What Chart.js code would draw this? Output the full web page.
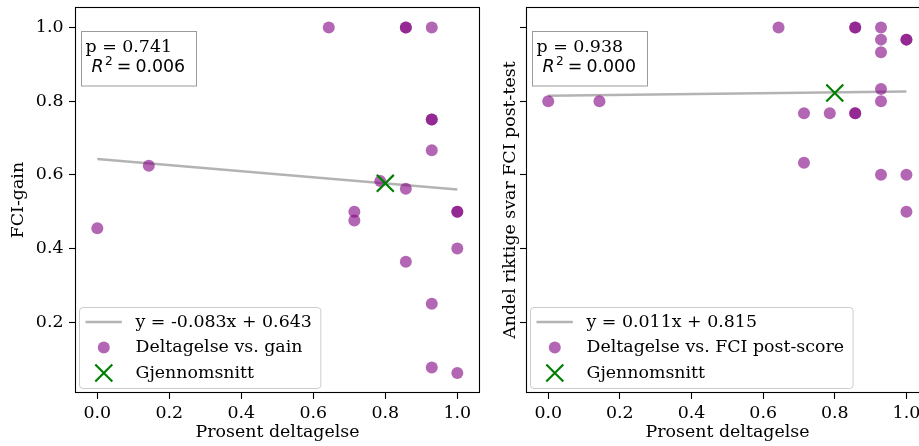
<!DOCTYPE html>
<html><head><meta charset="utf-8">
<script src="https://cdn.jsdelivr.net/npm/chart.js@4.4.1/dist/chart.umd.min.js"></script>
<style>
html,body{margin:0;padding:0;width:919px;height:446px;overflow:hidden;background:#fff;}
#w1{position:absolute;left:0;top:-7px;width:500px;height:453px;}
#w2{position:absolute;left:495px;top:-7px;width:450px;height:453px;}
canvas{display:block;}
</style></head><body>
<div id="w1"><canvas id="c1" width="500" height="453"></canvas></div>
<div id="w2"><canvas id="c2" width="450" height="453"></canvas></div>
<script>
// ---- data ----
const participationGain = [0.643, 0.857, 0.857, 0.929, 0.929, 0.929, 0.929, 0.143, 0.786, 0.857, 0.714, 0.714, 1.0, 1.0, 0.0, 1.0, 0.857, 0.929, 0.929, 1.0];
const fciGain           = [1.0, 1.0, 1.0, 1.0, 0.75, 0.75, 0.667, 0.625, 0.583, 0.562, 0.5, 0.476, 0.5, 0.5, 0.455, 0.4, 0.364, 0.25, 0.077, 0.0625];
const participationPost = [0.643, 0.857, 0.857, 0.929, 0.929, 1.0, 1.0, 0.929, 0.929, 0.929, 0.0, 0.143, 0.714, 0.786, 0.857, 0.857, 0.714, 0.929, 1.0, 1.0];
const fciPost           = [1.0, 1.0, 1.0, 1.0, 0.967, 0.967, 0.967, 0.933, 0.833, 0.8, 0.8, 0.8, 0.767, 0.767, 0.767, 0.767, 0.633, 0.6, 0.6, 0.5];
const meanGain = [0.8, 0.577];
const meanPost = [0.8, 0.822];
const fitGain = [-0.083, 0.643];   // slope, intercept
const fitPost = [0.011, 0.815];
const statsGain = ['p = 0.741', '0.006'];
const statsPost = ['p = 0.938', '0.000'];
const legendGain = ['y = -0.083x + 0.643', 'Deltagelse vs. gain', 'Gjennomsnitt'];
const legendPost = ['y = 0.011x + 0.815', 'Deltagelse vs. FCI post-score', 'Gjennomsnitt'];
const xTickValues = [0, 0.2, 0.4, 0.6, 0.8, 1.0];
const yTickValues = [0.2, 0.4, 0.6, 0.8, 1.0];
const xLimits = [-0.062, 1.063];
const yLimits = [0.008, 1.055];
const xTitle = 'Prosent deltagelse';
const yTitleGain = 'FCI-gain';
const yTitlePost = 'Andel riktige svar FCI post-test';

// ---- style ----
const FS = 17.4;
const SERIF = '"DejaVu Serif", serif';
const PURPLE = 'rgba(128,0,128,0.6)';
const GRAY = 'rgba(128,128,128,0.6)';
const GREEN = '#008000';
Chart.defaults.color = '#000';
Chart.defaults.font.family = SERIF;
Chart.defaults.font.size = FS;

function decorPlugin(cfg) {
  return {
    id: 'decor' + cfg.id,
    beforeDatasetsDraw(chart) {
      const {ctx, chartArea: a} = chart;
      ctx.save();
      ctx.strokeStyle = '#000'; ctx.lineWidth = 1.1;
      ctx.strokeRect(Math.round(a.left) + 0.5, Math.round(a.top) + 0.5, Math.round(a.right - a.left) - 1, Math.round(a.bottom - a.top) - 1);
      ctx.restore();
    },
    afterDatasetsDraw(chart) {
      const {ctx, chartArea: a} = chart;
      ctx.save();
      // stats box
      const bx = Math.round(a.left) + 6.5, by = Math.round(a.top) + 24.5, bw = 115, bh = 54.5;
      ctx.fillStyle = '#fff'; ctx.fillRect(bx, by, bw, bh);
      ctx.strokeStyle = '#9a9a9a'; ctx.lineWidth = 1;
      ctx.strokeRect(bx, by, bw, bh);
      ctx.fillStyle = '#000'; ctx.textBaseline = 'alphabetic'; ctx.textAlign = 'left';
      ctx.font = FS + 'px ' + SERIF;
      ctx.fillText(cfg.stats[0], bx + 4, by + 20.7);
      let x = bx + 10; const base = by + 40.7;
      ctx.font = 'italic ' + FS + 'px "DejaVu Sans"';
      ctx.fillText('R', x, base); x += ctx.measureText('R').width + 1.5;
      ctx.font = (FS * 0.7) + 'px "DejaVu Sans"';
      ctx.fillText('2', x, base - 7.5); x += ctx.measureText('2').width;
      ctx.font = FS + 'px "DejaVu Sans"';
      x += 4; ctx.fillText('=', x, base); x += ctx.measureText('=').width + 4;
      ctx.fillText(cfg.stats[1], x, base);

      // legend
      ctx.font = FS + 'px ' + SERIF;
      const tw = Math.max(...cfg.legend.map(l => ctx.measureText(l).width));
      const lw = 56 + tw + 9, lh = 81;
      const lx = Math.round(a.left) + 4.5, ly = Math.round(a.bottom) - 4.5 - lh;
      ctx.beginPath();
      ctx.roundRect(lx, ly, lw, lh, 3.5);
      ctx.fillStyle = 'rgba(255,255,255,0.8)'; ctx.fill();
      ctx.strokeStyle = '#cccccc'; ctx.lineWidth = 1; ctx.stroke();
      const rows = [ly + 14.5, ly + 40, ly + 65.5];
      ctx.beginPath(); ctx.moveTo(lx + 6, rows[0]); ctx.lineTo(lx + 42.3, rows[0]);
      ctx.strokeStyle = GRAY; ctx.lineWidth = 2.5; ctx.stroke();
      ctx.beginPath(); ctx.arc(lx + 24.3, rows[1], 6, 0, Math.PI * 2);
      ctx.fillStyle = PURPLE; ctx.fill();
      const cx = lx + 24.3, d = 8.5;
      ctx.beginPath();
      ctx.moveTo(cx - d, rows[2] - d); ctx.lineTo(cx + d, rows[2] + d);
      ctx.moveTo(cx - d, rows[2] + d); ctx.lineTo(cx + d, rows[2] - d);
      ctx.strokeStyle = GREEN; ctx.lineWidth = 2.2; ctx.stroke();
      ctx.fillStyle = '#000'; ctx.textBaseline = 'middle';
      cfg.legend.forEach((l, i) => ctx.fillText(l, lx + 56, rows[i]));
      ctx.restore();
    }
  };
}

function build(cfg) {
  const xs = cfg.xs, ys = cfg.ys;
  const xmin = Math.min(...xs), xmax = Math.max(...xs);
  new Chart(document.getElementById(cfg.canvas), {
    type: 'scatter',
    data: {
      datasets: [
        { label: cfg.legend[2], data: [{x: cfg.mean[0], y: cfg.mean[1]}], pointStyle: 'crossRot',
          pointRadius: 12, pointHoverRadius: 12, pointBorderColor: GREEN, pointBorderWidth: 2.2, pointBackgroundColor: 'rgba(0,0,0,0)', order: 0 },
        { label: cfg.legend[1], data: xs.map((x, i) => ({x: x, y: ys[i]})), pointRadius: 6,
          pointBackgroundColor: PURPLE, pointBorderWidth: 0, pointBorderColor: 'rgba(0,0,0,0)', order: 1 },
        { label: cfg.legend[0], type: 'line', data: [xmin, xmax].map(x => ({x: x, y: cfg.fit[0] * x + cfg.fit[1]})),
          borderColor: GRAY, borderWidth: 2.5, pointRadius: 0, fill: false, tension: 0, order: 2 }
      ]
    },
    options: {
      responsive: false, animation: false, events: [],
      layout: {padding: {top: 0, right: cfg.padRight, left: 0, bottom: 0}},
      plugins: {legend: {display: false}, tooltip: {enabled: false}},
      scales: {
        x: {
          type: 'linear', min: xLimits[0], max: xLimits[1],
          afterBuildTicks: s => { s.ticks = xTickValues.map(v => ({value: v})); },
          afterFit: s => { s.height = 53; s.paddingLeft = 0; s.paddingRight = 0; },
          border: {display: false},
          grid: {display: true, drawOnChartArea: false, drawTicks: true, tickLength: 6, tickColor: '#000', tickWidth: 1.1},
          ticks: {padding: 4, color: '#000', autoSkip: false, maxRotation: 0, callback: v => v.toFixed(1)},
          title: {display: true, text: xTitle, color: '#000', padding: {top: 0, bottom: 3}}
        },
        y: {
          type: 'linear', min: yLimits[0], max: yLimits[1],
          afterBuildTicks: s => { s.ticks = yTickValues.map(v => ({value: v})); },
          afterFit: s => { s.width = cfg.yAxisWidth; s.paddingTop = 0; s.paddingBottom = 0; },
          border: {display: false},
          grid: {display: true, drawOnChartArea: false, drawTicks: true, tickLength: 6, tickColor: '#000', tickWidth: 1.1},
          ticks: {display: cfg.showYLabels, padding: 5.5, color: '#000', callback: v => v.toFixed(1)},
          title: {display: true, text: cfg.yTitle, color: '#000', padding: {top: cfg.yTitlePad, bottom: 0}}
        }
      }
    },
    plugins: [decorPlugin(cfg)]
  });
}

build({id: 1, canvas: 'c1', xs: participationGain, ys: fciGain, mean: meanGain, fit: fitGain,
       stats: statsGain, legend: legendGain, yTitle: yTitleGain, showYLabels: true,
       yAxisWidth: 75, padRight: 20, yTitlePad: 8});
build({id: 2, canvas: 'c2', xs: participationPost, ys: fciPost, mean: meanPost, fit: fitPost,
       stats: statsPost, legend: legendPost, yTitle: yTitlePost, showYLabels: false,
       yAxisWidth: 31, padRight: 16, yTitlePad: 4.8});
</script>
</body></html>
